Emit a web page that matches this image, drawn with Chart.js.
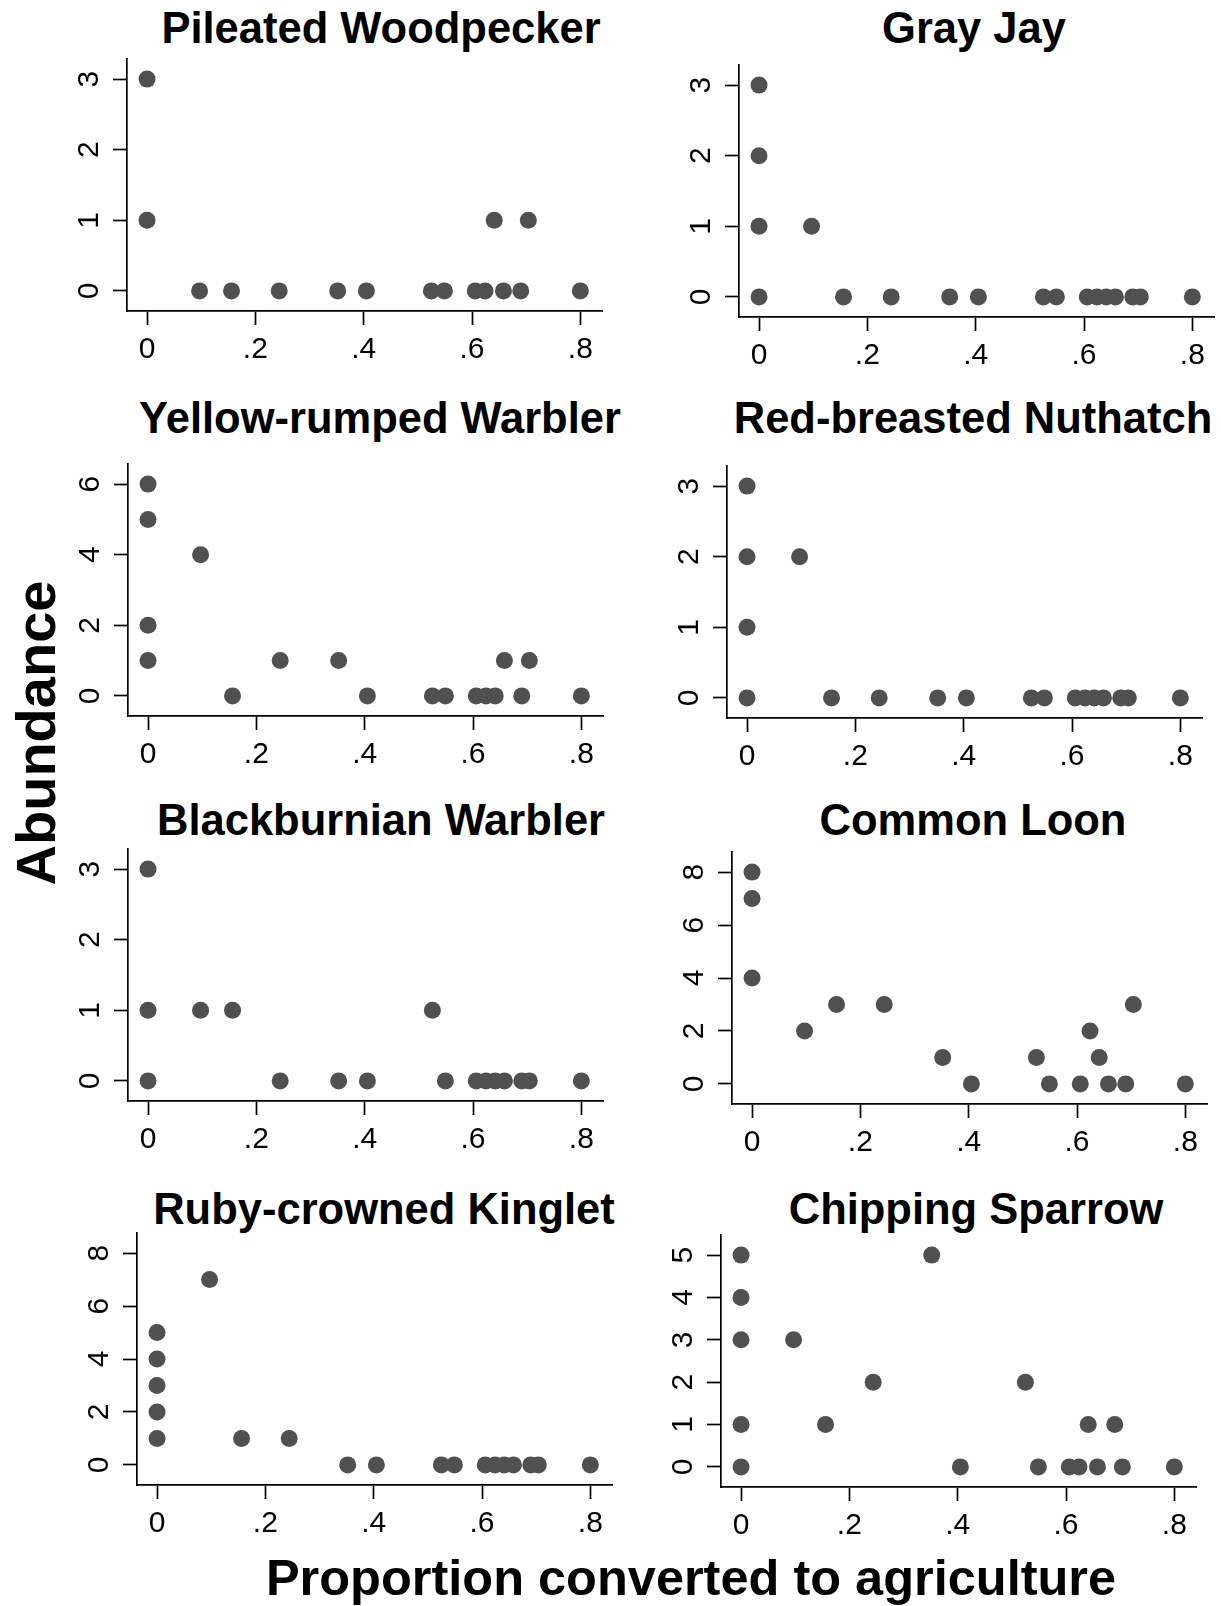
<!DOCTYPE html>
<html>
<head>
<meta charset="utf-8">
<script src="https://cdn.jsdelivr.net/npm/chart.js@4.4.1/dist/chart.umd.min.js"></script>
<style>
  html, body { margin: 0; padding: 0; background: #fff; overflow: hidden; }
  #page { position: relative; width: 1221px; height: 1606px; font-family: 'Liberation Sans', Arial, sans-serif; color: #000; }
  canvas { position: absolute; }
  .title { position: absolute; font-weight: bold; font-size: 43.5px; white-space: nowrap; transform: translate(-50%, -50%); }
  #ytitle { position: absolute; left: 35px; top: 733px; font-weight: bold; font-size: 56px; white-space: nowrap; transform: translate(-50%, -50%) rotate(-90deg); }
  #xtitle { position: absolute; left: 691px; top: 1577px; font-weight: bold; font-size: 50.5px; white-space: nowrap; transform: translate(-50%, -50%); }
</style>
</head>
<body>
<div id="page">
  <div id="ytitle">Abundance</div>
  <div id="xtitle">Proportion converted to agriculture</div>
</div>
<script>
// species titles
const titles = ['Pileated Woodpecker', 'Gray Jay', 'Yellow-rumped Warbler', 'Red-breasted Nuthatch',
                'Blackburnian Warbler', 'Common Loon', 'Ruby-crowned Kinglet', 'Chipping Sparrow'];

// x axis ticks (shared)
const xTicks = [0, 0.2, 0.4, 0.6, 0.8];
const xTickLabels = ['0', '.2', '.4', '.6', '.8'];

// data: proportion converted (x) and abundance (y)
const pileatedX = [0, 0, 0.097, 0.156, 0.244, 0.352, 0.405, 0.525, 0.549, 0.606, 0.624, 0.641, 0.658, 0.690, 0.704, 0.800];
const pileatedY = [3, 1, 0, 0, 0, 0, 0, 0, 0, 0, 0, 1, 0, 0, 1, 0];
const pileatedTicks = [0, 1, 2, 3];

const grayJayX = [0, 0, 0, 0, 0.097, 0.156, 0.244, 0.352, 0.405, 0.525, 0.549, 0.606, 0.624, 0.641, 0.658, 0.690, 0.704, 0.800];
const grayJayY = [3, 2, 1, 0, 1, 0, 0, 0, 0, 0, 0, 0, 0, 0, 0, 0, 0, 0];
const grayJayTicks = [0, 1, 2, 3];

const yellowX = [0, 0, 0, 0, 0.097, 0.156, 0.244, 0.352, 0.405, 0.525, 0.549, 0.606, 0.624, 0.641, 0.658, 0.690, 0.704, 0.800];
const yellowY = [6, 5, 2, 1, 4, 0, 1, 1, 0, 0, 0, 0, 0, 0, 1, 0, 1, 0];
const yellowTicks = [0, 2, 4, 6];

const nuthatchX = [0, 0, 0, 0, 0.097, 0.156, 0.244, 0.352, 0.405, 0.525, 0.549, 0.606, 0.624, 0.641, 0.658, 0.690, 0.704, 0.800];
const nuthatchY = [3, 2, 1, 0, 2, 0, 0, 0, 0, 0, 0, 0, 0, 0, 0, 0, 0, 0];
const nuthatchTicks = [0, 1, 2, 3];

const blackburnianX = [0, 0, 0, 0.097, 0.156, 0.244, 0.352, 0.405, 0.525, 0.549, 0.606, 0.624, 0.641, 0.658, 0.690, 0.704, 0.800];
const blackburnianY = [3, 1, 0, 1, 1, 0, 0, 0, 1, 0, 0, 0, 0, 0, 0, 0, 0];
const blackburnianTicks = [0, 1, 2, 3];

const loonX = [0, 0, 0, 0.097, 0.156, 0.244, 0.352, 0.405, 0.525, 0.549, 0.606, 0.624, 0.641, 0.658, 0.690, 0.704, 0.800];
const loonY = [8, 7, 4, 2, 3, 3, 1, 0, 1, 0, 0, 2, 1, 0, 0, 3, 0];
const loonTicks = [0, 2, 4, 6, 8];

const kingletX = [0, 0, 0, 0, 0, 0.097, 0.156, 0.244, 0.352, 0.405, 0.525, 0.549, 0.606, 0.624, 0.641, 0.658, 0.690, 0.704, 0.800];
const kingletY = [5, 4, 3, 2, 1, 7, 1, 1, 0, 0, 0, 0, 0, 0, 0, 0, 0, 0, 0];
const kingletTicks = [0, 2, 4, 6, 8];

const sparrowX = [0, 0, 0, 0, 0, 0.097, 0.156, 0.244, 0.352, 0.405, 0.525, 0.549, 0.606, 0.624, 0.641, 0.658, 0.690, 0.704, 0.800];
const sparrowY = [5, 4, 3, 1, 0, 3, 1, 2, 5, 0, 2, 0, 0, 0, 1, 0, 1, 0, 0];
const sparrowTicks = [0, 1, 2, 3, 4, 5];

Chart.defaults.font.family = "'Liberation Sans', Arial, sans-serif";
Chart.defaults.color = '#000';

const PLOT_W = 475, PLOT_H = 255;
const Y_AXIS_W = 90, X_AXIS_H = 60, PAD_TOP = 30, PAD_RIGHT = 20;
const X_MIN = -0.037, X_MAX = 0.84;
const Y_PAD = 0.095;   // fraction of tick range added below 0 and above top tick

// plot area (axis corner) left/top and title centre for each panel
const panels = [
    { xs: pileatedX, ys: pileatedY, ticks: pileatedTicks, left: 127, top: 56, tx: 381, ty: 28 },
    { xs: grayJayX, ys: grayJayY, ticks: grayJayTicks, left: 739, top: 62, tx: 974, ty: 28 },
    { xs: yellowX, ys: yellowY, ticks: yellowTicks, left: 128, top: 461, tx: 380, ty: 418 },
    { xs: nuthatchX, ys: nuthatchY, ticks: nuthatchTicks, left: 727, top: 463, tx: 973, ty: 418 },
    { xs: blackburnianX, ys: blackburnianY, ticks: blackburnianTicks, left: 128, top: 846, tx: 381, ty: 820 },
    { xs: loonX, ys: loonY, ticks: loonTicks, left: 732, top: 849, tx: 973, ty: 820 },
    { xs: kingletX, ys: kingletY, ticks: kingletTicks, left: 137, top: 1230, tx: 384, ty: 1209 },
    { xs: sparrowX, ys: sparrowY, ticks: sparrowTicks, left: 721, top: 1232, tx: 976, ty: 1209 }
];

const page = document.getElementById('page');

panels.forEach((p, idx) => {
    const t = document.createElement('div');
    t.className = 'title';
    t.textContent = titles[idx];
    t.style.left = p.tx + 'px';
    t.style.top = p.ty + 'px';
    page.appendChild(t);

    const canvas = document.createElement('canvas');
    const w = Y_AXIS_W + PLOT_W + PAD_RIGHT;
    const h = PAD_TOP + PLOT_H + X_AXIS_H;
    canvas.width = w;
    canvas.height = h;
    canvas.style.width = w + 'px';
    canvas.style.height = h + 'px';
    canvas.style.left = (p.left - Y_AXIS_W) + 'px';
    canvas.style.top = (p.top - PAD_TOP) + 'px';
    page.appendChild(canvas);

    const yTop = p.ticks[p.ticks.length - 1];
    const axisLine = { display: true, color: '#000', width: 1.7 };
    const tickGrid = { display: true, drawOnChartArea: false, drawTicks: true, tickLength: 14, tickWidth: 1.7, color: '#000' };

    new Chart(canvas.getContext('2d'), {
        type: 'scatter',
        data: {
            datasets: [{
                data: p.xs.map((x, i) => ({ x: x, y: p.ys[i] })),
                pointRadius: 8.5,
                pointBackgroundColor: '#505050',
                pointBorderWidth: 0,
                clip: false
            }]
        },
        options: {
            responsive: false,
            animation: false,
            devicePixelRatio: 1,
            layout: { padding: { top: PAD_TOP, right: PAD_RIGHT, left: 0, bottom: 0 } },
            plugins: { legend: { display: false }, tooltip: { enabled: false } },
            scales: {
                x: {
                    type: 'linear',
                    min: X_MIN,
                    max: X_MAX,
                    afterBuildTicks: s => { s.ticks = xTicks.map(v => ({ value: v })); },
                    afterFit: s => { s.height = X_AXIS_H; },
                    grid: tickGrid,
                    border: axisLine,
                    ticks: {
                        autoSkip: false, maxRotation: 0, padding: 7,
                        font: { size: 30 },
                        callback: (v, i) => xTickLabels[i]
                    }
                },
                y: {
                    type: 'linear',
                    min: -Y_PAD * yTop,
                    max: yTop * (1 + Y_PAD),
                    afterBuildTicks: s => { s.ticks = p.ticks.map(v => ({ value: v })); },
                    afterFit: s => { s.width = Y_AXIS_W; },
                    grid: tickGrid,
                    border: axisLine,
                    ticks: {
                        autoSkip: false, minRotation: 90, maxRotation: 90, padding: 15,
                        crossAlign: 'center',
                        font: { size: 30 },
                        callback: v => String(v)
                    }
                }
            }
        }
    });
});
</script>
</body>
</html>
